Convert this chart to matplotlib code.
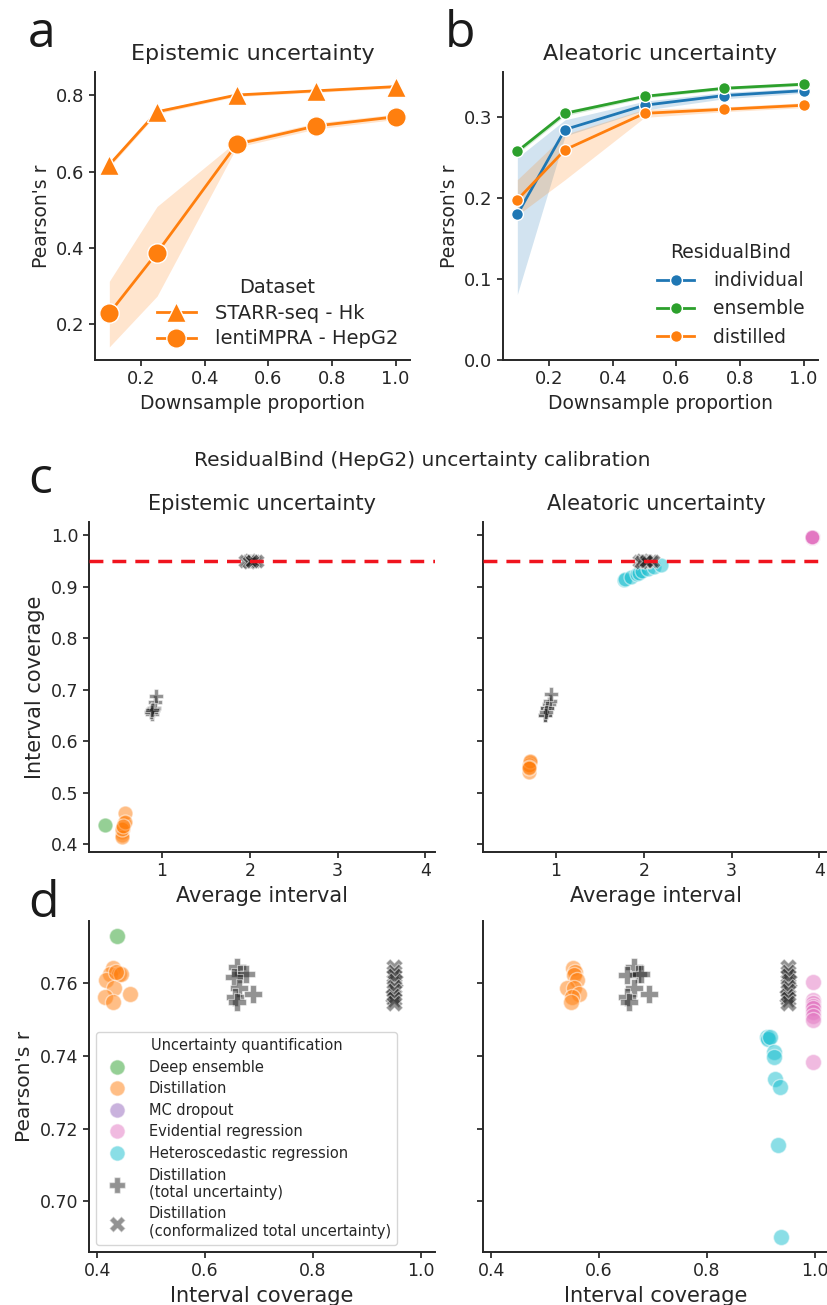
import matplotlib.pyplot as plt
from matplotlib.lines import Line2D

plt.rcParams['font.family'] = 'DejaVu Sans'
plt.rcParams['text.color'] = '0.15'
plt.rcParams['axes.labelcolor'] = '0.15'
plt.rcParams['axes.edgecolor'] = '0.15'
plt.rcParams['axes.linewidth'] = 1.4
plt.rcParams['xtick.color'] = '0.15'
plt.rcParams['ytick.color'] = '0.15'
plt.rcParams['xtick.major.width'] = 1.25
plt.rcParams['ytick.major.width'] = 1.25
plt.rcParams['xtick.major.size'] = 4
plt.rcParams['ytick.major.size'] = 4

ORANGE = '#ff7f0e'
BLUE = '#1f77b4'
GREEN = '#2ca02c'
PURPLE = '#9467bd'
PINK = '#e377c2'
CYAN = '#17becf'
GREY = '0.15'

# --- panel a: epistemic, Pearson's r vs downsample proportion ---
proportions = [0.1, 0.25, 0.5, 0.75, 1.0]
starr_r = [0.618, 0.757, 0.801, 0.812, 0.823]
starr_lo = [0.612, 0.752, 0.797, 0.808, 0.819]
starr_hi = [0.625, 0.762, 0.805, 0.816, 0.827]
lenti_r = [0.229, 0.388, 0.672, 0.720, 0.744]
lenti_lo = [0.141, 0.274, 0.664, 0.712, 0.737]
lenti_hi = [0.313, 0.509, 0.680, 0.728, 0.751]

# --- panel b: aleatoric ---
indiv_r = [0.180, 0.285, 0.315, 0.327, 0.333]
indiv_lo = [0.081, 0.277, 0.309, 0.323, 0.330]
indiv_hi = [0.250, 0.297, 0.320, 0.331, 0.336]
ens_r = [0.258, 0.305, 0.326, 0.336, 0.341]
ens_lo = [0.255, 0.302, 0.324, 0.334, 0.339]
ens_hi = [0.261, 0.308, 0.328, 0.338, 0.343]
dist_r = [0.198, 0.260, 0.305, 0.310, 0.315]
dist_lo = [0.179, 0.223, 0.300, 0.307, 0.312]
dist_hi = [0.223, 0.279, 0.310, 0.313, 0.318]

# --- panels c/d: epistemic calibration ---
ens_cov_epi = [0.437]
ens_int_epi = [0.348]
ens_pr_epi = [0.7729]
dis_cov_epi = [0.429, 0.423, 0.441, 0.417, 0.432, 0.414, 0.460, 0.429, 0.444, 0.435]
dis_int_epi = [0.552, 0.550, 0.570, 0.545, 0.558, 0.540, 0.583, 0.548, 0.575, 0.560]
dis_pr_epi = [0.7640, 0.7624, 0.7624, 0.7607, 0.7585, 0.7562, 0.7571, 0.7548, 0.7624, 0.7630]
tot_cov_epi = [0.660, 0.664, 0.676, 0.654, 0.662, 0.688, 0.656, 0.660]
tot_int_epi = [0.90, 0.91, 0.92, 0.89, 0.90, 0.93, 0.88, 0.89]
tot_pr_epi = [0.7644, 0.7626, 0.7624, 0.7617, 0.7585, 0.7571, 0.7562, 0.7548]
con_cov_epi = [0.951, 0.950, 0.951, 0.952, 0.950, 0.951, 0.949, 0.951, 0.950]
con_int_epi = [1.98, 2.01, 2.05, 2.00, 1.95, 2.03, 1.99, 2.08, 2.02]
con_pr_epi = [0.7645, 0.7630, 0.7620, 0.7605, 0.7590, 0.7578, 0.7565, 0.7555, 0.7545]

# --- panels c/d: aleatoric calibration ---
dis_cov_ale = [0.552, 0.556, 0.553, 0.560, 0.541, 0.553, 0.562, 0.550, 0.548]
dis_int_ale = [0.69, 0.70, 0.69, 0.70, 0.69, 0.69, 0.70, 0.69, 0.69]
dis_pr_ale = [0.7640, 0.7631, 0.7621, 0.7607, 0.7587, 0.7585, 0.7571, 0.7562, 0.7548]
het_cov_ale = [0.913, 0.916, 0.919, 0.926, 0.928, 0.930, 0.935, 0.938, 0.943]
het_int_ale = [1.77, 1.79, 1.85, 1.92, 1.95, 1.98, 2.05, 2.12, 2.20]
het_pr_ale = [0.7452, 0.7445, 0.7452, 0.7410, 0.7397, 0.7337, 0.7156, 0.7314, 0.6902]
het_x_ale = [0.911, 0.914, 0.917, 0.924, 0.924, 0.926, 0.932, 0.935, 0.938]
evi_cov_ale = [0.997, 0.997, 0.996, 0.997, 0.997, 0.996, 0.997, 0.997, 0.997]
evi_int_ale = [3.92, 3.92, 3.91, 3.92, 3.93, 3.92, 3.92, 3.91, 3.92]
evi_pr_ale = [0.7603, 0.7552, 0.7545, 0.7538, 0.7530, 0.7520, 0.7510, 0.7497, 0.7383]
tot_cov_ale = [0.664, 0.672, 0.652, 0.678, 0.664, 0.692, 0.652, 0.656]
tot_int_ale = [0.90, 0.92, 0.88, 0.93, 0.90, 0.94, 0.88, 0.89]
tot_pr_ale = [0.7644, 0.7626, 0.7621, 0.7624, 0.7585, 0.7571, 0.7562, 0.7548]
con_cov_ale = [0.951, 0.950, 0.951, 0.952, 0.950, 0.951, 0.949, 0.951, 0.950]
con_int_ale = [1.95, 2.00, 2.04, 1.98, 2.08, 2.01, 1.97, 2.10, 2.03]
con_pr_ale = [0.7645, 0.7630, 0.7620, 0.7605, 0.7590, 0.7578, 0.7565, 0.7555, 0.7545]

legend_names = ['Deep ensemble', 'Distillation', 'MC dropout', 'Evidential regression',
                'Heteroscedastic regression']
legend_colors = [GREEN, ORANGE, PURPLE, PINK, CYAN]

W, H = 828, 1305
fig = plt.figure(figsize=(W / 100, H / 100), dpi=100)


def box(left, top, right, bottom):
    return [left / W, 1 - bottom / H, (right - left) / W, (bottom - top) / H]


def despine(ax):
    ax.spines['top'].set_visible(False)
    ax.spines['right'].set_visible(False)


ax_a = fig.add_axes(box(95, 72, 410, 360))
ax_b = fig.add_axes(box(503, 72, 818, 360))
ax_c1 = fig.add_axes(box(89, 522, 435, 852))
ax_c2 = fig.add_axes(box(483, 522, 829, 852), sharex=ax_c1, sharey=ax_c1)
ax_d1 = fig.add_axes(box(89, 921, 435, 1252))
ax_d2 = fig.add_axes(box(483, 921, 829, 1252), sharex=ax_d1, sharey=ax_d1)

# panel a
ax_a.fill_between(proportions, starr_lo, starr_hi, color=ORANGE, alpha=0.2, lw=0)
ax_a.fill_between(proportions, lenti_lo, lenti_hi, color=ORANGE, alpha=0.2, lw=0)
ax_a.plot(proportions, starr_r, color=ORANGE, lw=2, marker='^', ms=14,
          mec='white', mew=1, label='STARR-seq - Hk')
ax_a.plot(proportions, lenti_r, color=ORANGE, lw=2, marker='o', ms=14,
          mec='white', mew=1, label='lentiMPRA - HepG2')
ax_a.set_xticks([0.2, 0.4, 0.6, 0.8, 1.0])
ax_a.set_yticks([0.2, 0.4, 0.6, 0.8])
ax_a.tick_params(labelsize=13)
ax_a.set_xlabel('Downsample proportion', fontsize=13.5)
ax_a.set_ylabel("Pearson's r", fontsize=13.5)
ax_a.set_title('Epistemic uncertainty', fontsize=16, pad=9)
ax_a.legend(title='Dataset', loc='lower right', frameon=False, fontsize=14,
            title_fontsize=14, borderaxespad=0.2, handletextpad=1.0,
            labelspacing=0.35)
despine(ax_a)

# panel b
for r, lo, hi, col, name in [(indiv_r, indiv_lo, indiv_hi, BLUE, 'individual'),
                             (ens_r, ens_lo, ens_hi, GREEN, 'ensemble'),
                             (dist_r, dist_lo, dist_hi, ORANGE, 'distilled')]:
    ax_b.fill_between(proportions, lo, hi, color=col, alpha=0.2, lw=0)
    ax_b.plot(proportions, r, color=col, lw=2, marker='o', ms=8.5,
              mec='white', mew=1, label=name)
ax_b.set_ylim(bottom=0)
ax_b.set_xticks([0.2, 0.4, 0.6, 0.8, 1.0])
ax_b.set_yticks([0.0, 0.1, 0.2, 0.3])
ax_b.tick_params(labelsize=13)
ax_b.set_xlabel('Downsample proportion', fontsize=13.5)
ax_b.set_ylabel("Pearson's r", fontsize=13.5)
ax_b.set_title('Aleatoric uncertainty', fontsize=16, pad=9)
ax_b.legend(title='ResidualBind', loc='lower right', frameon=False, fontsize=13.5,
            title_fontsize=13.5, borderaxespad=0.3, handletextpad=1.0)
despine(ax_b)

# panel c
circ_c = dict(s=115, alpha=0.5, edgecolors='white', linewidths=1)
mark_c = dict(s=115, alpha=0.5, color=GREY, edgecolors='white', linewidths=0.8)
ax_c1.scatter(ens_int_epi, ens_cov_epi, color=GREEN, **circ_c)
ax_c1.scatter(dis_int_epi, dis_cov_epi, color=ORANGE, **circ_c)
ax_c1.scatter(tot_int_epi, tot_cov_epi, marker='P', **mark_c)
ax_c1.scatter(con_int_epi, con_cov_epi, marker='X', **mark_c)

ax_c2.scatter(dis_int_ale, dis_cov_ale, color=ORANGE, **circ_c)
ax_c2.scatter(het_int_ale, het_cov_ale, color=CYAN, **circ_c)
ax_c2.scatter(evi_int_ale, evi_cov_ale, color=PINK, **circ_c)
ax_c2.scatter(tot_int_ale, tot_cov_ale, marker='P', **mark_c)
ax_c2.scatter(con_int_ale, con_cov_ale, marker='X', **mark_c)

for ax, title in [(ax_c1, 'Epistemic uncertainty'), (ax_c2, 'Aleatoric uncertainty')]:
    ax.axhline(0.95, color='#f0141e', lw=2.5, ls=(0, (4, 2.6)), zorder=3)
    ax.set_title(title, fontsize=15, pad=9)
    ax.set_xlabel('Average interval', fontsize=15)
    ax.tick_params(labelsize=12.5)
    despine(ax)
ax_c1.set_xticks([1, 2, 3, 4])
ax_c1.set_yticks([0.4, 0.5, 0.6, 0.7, 0.8, 0.9, 1.0])
ax_c1.set_ylabel('Interval coverage', fontsize=15)
ax_c2.tick_params(labelleft=False)

fig.text(0.51, 1 - 460 / H, 'ResidualBind (HepG2) uncertainty calibration',
         ha='center', va='center', fontsize=14.5)

# panel d
circ_d = dict(s=135, alpha=0.5, edgecolors='white', linewidths=1)
mark_d = dict(s=150, alpha=0.5, color=GREY, edgecolors='white', linewidths=0.8)
ax_d1.scatter(ens_cov_epi, ens_pr_epi, color=GREEN, **circ_d)
ax_d1.scatter(dis_cov_epi, dis_pr_epi, color=ORANGE, **circ_d)
ax_d1.scatter(tot_cov_epi, tot_pr_epi, marker='P', **mark_d)
ax_d1.scatter(con_cov_epi, con_pr_epi, marker='X', **mark_d)

ax_d2.scatter(dis_cov_ale, dis_pr_ale, color=ORANGE, **circ_d)
ax_d2.scatter(het_x_ale, het_pr_ale, color=CYAN, **circ_d)
ax_d2.scatter(evi_cov_ale, evi_pr_ale, color=PINK, **circ_d)
ax_d2.scatter(tot_cov_ale, tot_pr_ale, marker='P', **mark_d)
ax_d2.scatter(con_cov_ale, con_pr_ale, marker='X', **mark_d)

for ax in (ax_d1, ax_d2):
    ax.set_xlabel('Interval coverage', fontsize=15)
    ax.tick_params(labelsize=12.5)
    despine(ax)
ax_d1.set_xticks([0.4, 0.6, 0.8, 1.0])
ax_d1.set_yticks([0.70, 0.72, 0.74, 0.76])
ax_d1.set_ylabel("Pearson's r", fontsize=14.5)
ax_d2.tick_params(labelleft=False)

handles = [Line2D([], [], ls='', marker='o', ms=11, color=c, alpha=0.5, mec='white')
           for c in legend_colors]
handles.append(Line2D([], [], ls='', marker='P', ms=11, color=GREY, alpha=0.5, mec='white'))
handles.append(Line2D([], [], ls='', marker='X', ms=11, color=GREY, alpha=0.5, mec='white'))
labels = legend_names + ['Distillation\n(total uncertainty)',
                         'Distillation\n(conformalized total uncertainty)']
ax_d1.legend(handles, labels, title='Uncertainty quantification', loc='lower left',
             fontsize=10.5, title_fontsize=10.5, borderaxespad=0.5, handletextpad=1.2,
             labelspacing=0.45)

# panel letters
for letter, x, y in [('a', 28, 47), ('b', 445, 47), ('c', 28, 493), ('d', 28, 917)]:
    fig.text(x / W, 1 - y / H, letter, fontsize=36, fontfamily='Open Sans',
             ha='left', va='baseline', color='0.1')

fig.savefig('out.png', dpi=100)
